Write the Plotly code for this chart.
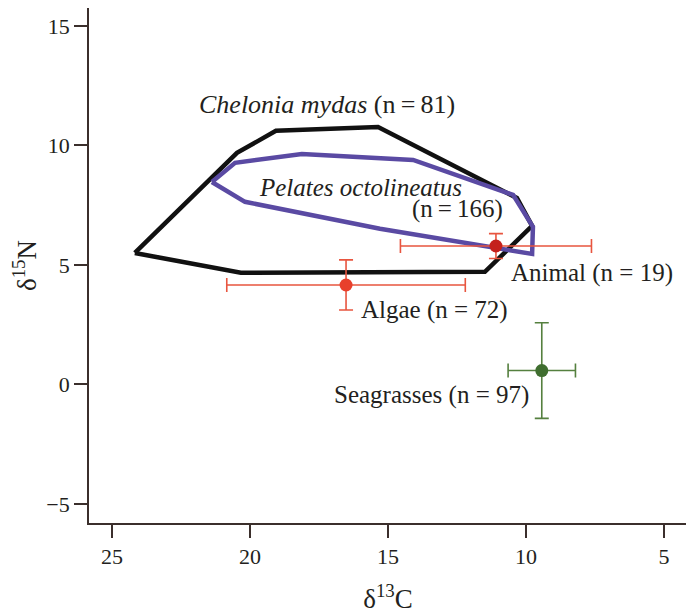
import plotly.graph_objects as go

# Convex hulls (δ13C shown as positive magnitude on a reversed axis, δ15N)
chelonia_x = [24.17, 20.33, 11.49, 9.78, 10.33, 15.36, 19.06, 20.47, 24.17]
chelonia_y = [5.50, 4.67, 4.71, 6.63, 7.80, 10.77, 10.61, 9.69, 5.50]

pelates_x = [21.38, 20.54, 18.12, 14.09, 10.47, 9.75, 9.78, 15.29, 20.18, 21.38]
pelates_y = [8.47, 9.27, 9.64, 9.39, 7.93, 6.59, 5.46, 6.51, 7.64, 8.47]

# Food sources: mean ± SD
sources = ["Algae", "Animal", "Seagrasses"]
source_n = [72, 19, 97]
source_x = [16.52, 11.09, 9.43]
source_y = [4.16, 5.79, 0.58]
source_xerr = [4.32, 3.46, 1.22]
source_yerr = [1.05, 0.52, 2.00]
marker_colors = ["#e8402c", "#c4201c", "#3f6e2f"]
bar_colors = ["#e8553f", "#e8553f", "#55803f"]

# label positions
label_x = [13.30, 7.61, 13.42]
label_y = [3.12, 4.67, -0.44]

x_ticks = [25, 20, 15, 10, 5]
y_ticks = [-5, 0, 5, 10, 15]

FONT = "Liberation Serif, Times New Roman, serif"
TXT = "#231f20"

fig = go.Figure()
fig.add_trace(go.Scatter(x=chelonia_x, y=chelonia_y, mode="lines",
                         line=dict(color="#111111", width=4.5), hoverinfo="skip"))
fig.add_trace(go.Scatter(x=pelates_x, y=pelates_y, mode="lines",
                         line=dict(color="#5a4aa3", width=4.5), hoverinfo="skip"))

for i in range(len(sources)):
    fig.add_trace(go.Scatter(
        x=[source_x[i]], y=[source_y[i]], mode="markers",
        marker=dict(color=marker_colors[i], size=13),
        error_x=dict(type="data", array=[source_xerr[i]], color=bar_colors[i],
                     thickness=1.6, width=7),
        error_y=dict(type="data", array=[source_yerr[i]], color=bar_colors[i],
                     thickness=1.6, width=7),
    ))
    fig.add_annotation(x=label_x[i], y=label_y[i],
                       text=f"{sources[i]} (n = {source_n[i]})",
                       showarrow=False, font=dict(size=25, family=FONT, color=TXT))

fig.add_annotation(x=17.22, y=11.72, text="<i>Chelonia mydas</i> (n\u2009=\u200981)",
                   showarrow=False, font=dict(size=26, family=FONT, color=TXT))
fig.add_annotation(x=16.01, y=8.26, text="<i>Pelates octolineatus</i>",
                   showarrow=False, font=dict(size=25, family=FONT, color=TXT))
fig.add_annotation(x=12.50, y=7.34, text="(n\u2009=\u2009166)",
                   showarrow=False, font=dict(size=25, family=FONT, color=TXT))

# page body has an 8px margin, so the figure is sized/offset to compensate
fig.update_layout(
    width=686, height=606,
    margin=dict(l=81, r=7, t=0, b=91),
    plot_bgcolor="white", paper_bgcolor="white",
    showlegend=False,
    font=dict(family=FONT, color=TXT, size=22),
    xaxis=dict(range=[25.83, 4.17], tickvals=x_ticks, ticks="outside", ticklen=13,
               tickwidth=1.5, tickcolor="#3b2f2c", showline=True, linecolor="#3b2f2c",
               linewidth=1.8, showgrid=False, zeroline=False,
               tickfont=dict(size=22, family=FONT, color=TXT),
               title=dict(text="δ<sup>13</sup>C", font=dict(size=27, family=FONT, color=TXT),
                          standoff=22)),
    yaxis=dict(range=[-5.8, 15.75], tickvals=y_ticks, ticks="outside", ticklen=13,
               tickwidth=1.5, tickcolor="#3b2f2c", showline=True, linecolor="#3b2f2c",
               linewidth=1.8, showgrid=False, zeroline=False,
               tickfont=dict(size=22, family=FONT, color=TXT),
               title=dict(text="δ<sup>15</sup>N", font=dict(size=27, family=FONT, color=TXT),
                          standoff=8)),
)

fig.write_html("out.html")
